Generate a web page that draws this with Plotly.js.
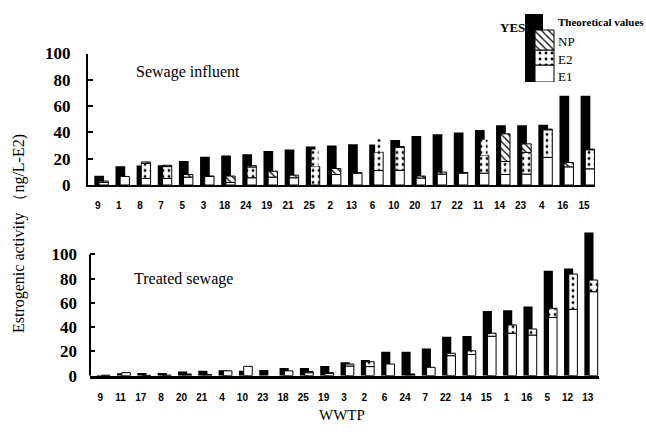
<!DOCTYPE html>
<html>
<head>
<meta charset="utf-8">
<script src="https://cdn.plot.ly/plotly-3.0.1.min.js"></script>
<style>
  html, body { margin: 0; padding: 0; background: #fff; }
  #chart { width: 646px; height: 432px; }
</style>
</head>
<body>
<div id="chart"></div>
<script>
// ---- Sewage influent (ng/L-E2) ----
const influentPlants = ['9','1','8','7','5','3','18','24','19','21','25','2','13','6','10','20','17','22','11','14','23','4','16','15'];
const influentYES    = [7, 14.3, 14.8, 15, 18.2, 21.5, 22.5, 23.3, 25.8, 27, 29.2, 30, 31, 30.8, 34.3, 37.2, 38.6, 40, 41.8, 45.5, 45.5, 45.8, 67.8, 67.8];
const influentE1     = [2, 6.5, 5, 5, 6, 6.5, 2, 5.5, 6, 5.5, 0, 8, 9, 11, 11.2, 5.3, 8.3, 9, 9, 8, 8.3, 21, 13.8, 12.3];
const influentE2     = [0, 0, 11.5, 9, 0, 0, 0, 8.2, 0, 0, 14, 0, 0, 14, 17.5, 0, 0, 0, 13.4, 9.9, 16.5, 21, 0, 14.5];
const influentNP     = [1, 0, 1, 1, 2, 0.3, 4.8, 1, 4.5, 2, 0, 4.5, 0.5, 0, 0.5, 1.5, 1.5, 0.5, 0, 21, 6.5, 0.5, 3.3, 0.5];
const influentE2Spread = [0, 0, 0, 0, 0, 0, 0, 0, 0, 0, 13, 0, 0, 10, 0, 0, 0, 0, 12, 0, 0, 0, 0, 0];

// ---- Treated sewage (ng/L-E2) ----
const treatedPlants = ['9','11','17','8','20','21','4','10','23','18','25','19','3','2','6','24','7','22','14','15','1','16','5','12','13'];
const treatedYES    = [0.5, 2, 2.2, 2.2, 3.5, 4, 4.4, 4.1, 4.7, 6.3, 6.3, 7.9, 11, 13, 19.8, 19.8, 22.5, 32.1, 32.7, 53.3, 54, 56.9, 86.5, 88.4, 118];
const treatedE1     = [0.4, 2.5, 0.3, 0.5, 1, 1, 4, 7.7, 0, 4, 2.5, 2, 8, 7.5, 9.6, 1, 6.9, 16.5, 17.5, 32.5, 35, 33.5, 48, 54.7, 69.2];
const treatedE2     = [0, 0, 0, 0, 0, 0, 0, 0, 0, 0, 1, 0, 1.6, 4, 0, 0, 0, 2, 3, 2.5, 6.8, 5, 7.5, 29, 9.6];
const treatedNP     = [0, 0, 0, 0, 0.4, 0, 0, 0, 0, 0, 0, 0.5, 0, 0, 0, 0.4, 0, 0, 0, 0, 0, 0, 0, 0, 0];

// ---- key swatches (heights of the stacked key, in key-axis units) ----
const keyYES = [68];
const keyE1 = [17];
const keyE2 = [15];
const keyNP = [20];

const SERIF = '"Liberation Serif", "Times New Roman", serif';
const SANS = '"Liberation Sans", Arial, sans-serif';

const nz = a => a.map(v => (v > 0 ? v : null));
const add = (a, b) => a.map((v, i) => v + b[i]);

const dotPattern = { shape: '.', size: 6, solidity: 0.18, fgcolor: '#000', bgcolor: '#fff' };
const hatchPattern = { shape: '\\', size: 5, solidity: 0.25, fgcolor: '#000', bgcolor: '#fff' };

function panelTraces(cats, yes, e1, e2, np, spread, xa, ya, geo) {
  const common = { x: cats, xaxis: xa, yaxis: ya, type: 'bar', showlegend: false, hoverinfo: 'skip' };
  const b2 = e1;
  const b3 = add(e1, e2);
  const b4 = add(b3, np);
  const out = [
    Object.assign({}, common, { y: yes, offset: geo.yOff, width: geo.yW,
      marker: { color: '#000', line: { width: 0 } } }),
    Object.assign({}, common, { y: nz(e1), offset: geo.sOff, width: geo.sW,
      marker: { color: '#fff', line: { color: '#000', width: 1 } } }),
    Object.assign({}, common, { y: nz(e2), base: b2, offset: geo.sOff, width: geo.sW,
      marker: { color: '#fff', pattern: dotPattern, line: { color: '#000', width: 1 } } }),
    Object.assign({}, common, { y: nz(np), base: b3, offset: geo.sOff, width: geo.sW,
      marker: { color: '#fff', pattern: hatchPattern, line: { color: '#000', width: 1 } } })
  ];
  if (spread) {
    out.push(Object.assign({}, common, { y: nz(spread), base: b4, offset: geo.sOff + 0.06, width: geo.sW - 0.12,
      marker: { color: '#fff', pattern: { shape: '.', size: 6, solidity: 0.18, fgcolor: '#000', bgcolor: '#fff' },
                line: { width: 0 } } }));
  }
  return out;
}

const traces = []
  .concat(panelTraces(influentPlants, influentYES, influentE1, influentE2, influentNP, influentE2Spread,
                      'x', 'y', { yOff: -0.16, yW: 0.46, sOff: 0.06, sW: 0.44 }))
  .concat(panelTraces(treatedPlants, treatedYES, treatedE1, treatedE2, treatedNP, null,
                      'x2', 'y2', { yOff: -0.17, yW: 0.45, sOff: 0.065, sW: 0.42 }));

// key: black YES bar with the stacked E1 / E2 / NP box in front of it
const keyCommon = { x: [0], xaxis: 'x3', yaxis: 'y3', type: 'bar', showlegend: false, hoverinfo: 'skip' };
traces.push(Object.assign({}, keyCommon, { y: keyYES, offset: 0, width: 18, marker: { color: '#000', line: { width: 0 } } }));
traces.push(Object.assign({}, keyCommon, { y: keyE1, offset: 10, width: 19,
  marker: { color: '#fff', line: { color: '#000', width: 1 } } }));
traces.push(Object.assign({}, keyCommon, { y: keyE2, base: keyE1, offset: 10, width: 19,
  marker: { color: '#fff', pattern: dotPattern, line: { color: '#000', width: 1 } } }));
traces.push(Object.assign({}, keyCommon, { y: keyNP, base: add(keyE1, keyE2), offset: 10, width: 19,
  marker: { color: '#fff', pattern: hatchPattern, line: { color: '#000', width: 1 } } }));

const W = 646, H = 432;
const px = v => v / W;
const py = v => 1 - v / H;

// vertical scales: top panel 1.315 px per unit, lower panel 1.214 px per unit
const topZero = 185, topPxPerUnit = 1.315;
const lowZero = 375.7, lowPxPerUnit = 1.214, lowMax = 122;

const yTicks = [0, 20, 40, 60, 80, 100];
const yAxisBase = {
  tickvals: yTicks, ticktext: yTicks.map(String),
  ticks: 'inside', ticklen: 5, tickwidth: 2, tickcolor: '#000',
  showgrid: false, zeroline: false, fixedrange: true,
  ticklabelstandoff: 12,
  tickfont: { family: SERIF, size: 17, color: '#000', weight: 'bold' }
};
const xAxisBase = {
  type: 'category', showline: true, linecolor: '#000',
  ticks: '', showgrid: false, zeroline: false, fixedrange: true,
  ticklabelstandoff: 10,
  tickfont: { family: SANS, size: 10, color: '#000', weight: 'bold' }
};

const layout = {
  width: W, height: H,
  margin: { l: 0, r: 0, t: 0, b: 0 },
  paper_bgcolor: '#fff', plot_bgcolor: 'rgba(0,0,0,0)',
  barmode: 'overlay',
  showlegend: false,
  xaxis: Object.assign({}, xAxisBase, { domain: [px(88), px(595)], anchor: 'y', range: [-0.46, 23.52], linewidth: 2 }),
  yaxis: Object.assign({}, yAxisBase, { domain: [py(topZero), py(topZero - 100 * topPxPerUnit)], anchor: 'x',
    range: [0, 100], showline: true, linewidth: 2, linecolor: '#000' }),
  xaxis2: Object.assign({}, xAxisBase, { domain: [px(90), px(599)], anchor: 'y2', range: [-0.5, 24.55], linewidth: 3 }),
  // the lower panel's range runs past 100 so the tallest bar is not cut; its axis line stops at 100
  yaxis2: Object.assign({}, yAxisBase, { domain: [py(lowZero), py(lowZero - lowMax * lowPxPerUnit)], anchor: 'x2',
    range: [0, lowMax], showline: false }),
  xaxis3: { domain: [px(525), px(555)], anchor: 'y3', range: [0, 30], visible: false, fixedrange: true },
  yaxis3: { domain: [py(82), py(14)], anchor: 'x3', range: [0, 68], visible: false, fixedrange: true },
  shapes: [
    { type: 'line', xref: 'x2 domain', yref: 'y2', x0: 0, x1: 0, y0: 0, y1: 100,
      line: { color: '#000', width: 2 } }
  ],
  annotations: [
    { text: 'Sewage influent', xref: 'paper', yref: 'paper', x: px(134), y: py(72),
      xanchor: 'left', yanchor: 'middle', showarrow: false, font: { family: SERIF, size: 16, color: '#000' } },
    { text: 'Treated sewage', xref: 'paper', yref: 'paper', x: px(132), y: py(279),
      xanchor: 'left', yanchor: 'middle', showarrow: false, font: { family: SERIF, size: 16, color: '#000' } },
    { text: 'WWTP', xref: 'paper', yref: 'paper', x: px(342), y: py(415),
      xanchor: 'center', yanchor: 'middle', showarrow: false, font: { family: SERIF, size: 15, color: '#000' } },
    { text: 'Estrogenic activity \uFF08ng/L-E2)', xref: 'paper', yref: 'paper', x: px(19), y: py(234),
      xanchor: 'center', yanchor: 'middle', textangle: -90, showarrow: false,
      font: { family: SERIF, size: 16, color: '#000' } },
    { text: 'YES', xref: 'paper', yref: 'paper', x: px(527), y: py(28),
      xanchor: 'right', yanchor: 'middle', showarrow: false, font: { family: SERIF, size: 13, color: '#000', weight: 'bold' } },
    { text: 'Theoretical values', xref: 'paper', yref: 'paper', x: px(556), y: py(22),
      xanchor: 'left', yanchor: 'middle', showarrow: false, font: { family: SERIF, size: 11, color: '#000', weight: 'bold' } },
    { text: 'NP', xref: 'paper', yref: 'paper', x: px(556), y: py(41),
      xanchor: 'left', yanchor: 'middle', showarrow: false, font: { family: SERIF, size: 13, color: '#000' } },
    { text: 'E2', xref: 'paper', yref: 'paper', x: px(556), y: py(60),
      xanchor: 'left', yanchor: 'middle', showarrow: false, font: { family: SERIF, size: 13, color: '#000' } },
    { text: 'E1', xref: 'paper', yref: 'paper', x: px(556), y: py(77),
      xanchor: 'left', yanchor: 'middle', showarrow: false, font: { family: SERIF, size: 13, color: '#000' } }
  ]
};

Plotly.newPlot('chart', traces, layout, { staticPlot: true, displayModeBar: false });
</script>
</body>
</html>
